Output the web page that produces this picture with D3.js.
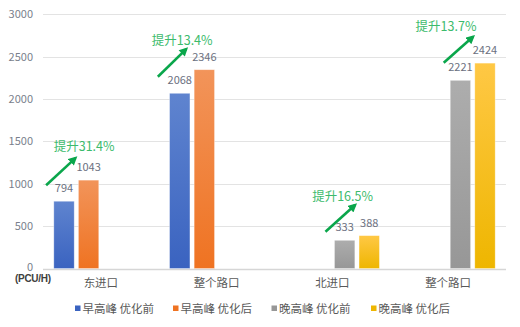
<!DOCTYPE html>
<html><head><meta charset="utf-8">
<script src="https://cdn.jsdelivr.net/npm/d3@7"></script>
<style>
html,body{margin:0;padding:0;background:#fff;}
svg{display:block;font-family:"Noto Sans CJK SC","Noto Sans",sans-serif;}
</style></head>
<body>
<svg id="c" width="520" height="327"></svg>
<script>
const categories = ["东进口", "整个路口", "北进口", "整个路口"];
const seriesNames = ["早高峰 优化前", "早高峰 优化后", "晚高峰 优化前", "晚高峰 优化后"];
const amBefore = [794, 2068, null, null];
const amAfter = [1043, 2346, null, null];
const pmBefore = [null, null, 333, 2221];
const pmAfter = [null, null, 388, 2424];
const yTicks = [0, 500, 1000, 1500, 2000, 2500, 3000];
const notes = ["提升31.4%", "提升13.4%", "提升16.5%", "提升13.7%"];
const unitLabel = "(PCU/H)";

(function () {
const seriesData = [amBefore, amAfter, pmBefore, pmAfter];
const colors = [["#5f84cf","#3a63c0"],["#f2945a","#ef7322"],["#adadad","#979797"],["#ffc845","#eeb600"]];

const svg = d3.select("#c");
const mLeft = 43, mRight = 506, mTop = 14.3, mBottom = 268.5;
const x0 = d3.scaleBand().domain(d3.range(categories.length)).range([mLeft, mRight]).padding(0);
const x1 = d3.scaleBand().domain(d3.range(4)).range([0, x0.bandwidth()]).paddingInner(0.17).paddingOuter(0.44);
const y = d3.scaleLinear().domain([0, 3000]).range([mBottom, mTop]);

const defs = svg.append("defs");
colors.forEach((c, i) => {
  const g = defs.append("linearGradient").attr("id", "g" + i).attr("x1", 0).attr("y1", 0).attr("x2", 0).attr("y2", 1);
  g.append("stop").attr("offset", "0%").attr("stop-color", c[0]);
  g.append("stop").attr("offset", "100%").attr("stop-color", c[1]);
});
const mk = defs.append("marker").attr("id", "ah").attr("viewBox", "0 0 10 10").attr("refX", 7).attr("refY", 5)
  .attr("markerWidth", 3.6).attr("markerHeight", 3.4).attr("orient", "auto").attr("markerUnits", "strokeWidth");
mk.append("path").attr("d", "M0,0 L10,5 L0,10 z").attr("fill", "#0aa64b");

// grid
svg.append("g").selectAll("line").data(yTicks).join("line")
  .attr("x1", mLeft).attr("x2", mRight).attr("y1", d => Math.round(y(d)) + 0.5).attr("y2", d => Math.round(y(d)) + 0.5)
  .attr("stroke", d => d === 0 ? "#d6d6d6" : "#e3e3e3").attr("stroke-width", d => d === 0 ? 1.5 : 1);

// y axis labels
svg.append("g").selectAll("text").data(yTicks).join("text")
  .attr("x", 33).attr("y", d => y(d) + 4 - (d === 0 ? 2 : 0)).attr("text-anchor", "end")
  .attr("font-size", 11).attr("fill", "#7a7f8c").text(d => d);

svg.append("text").attr("x", 15).attr("y", 281.5).attr("text-anchor", "start").attr("font-size", 10)
  .attr("font-weight", "bold").attr("fill", "#404040").attr("font-family", "Arial, Liberation Sans, sans-serif")
  .attr("textLength", 36).text(unitLabel);

// bars
const groups = svg.append("g").selectAll("g").data(categories).join("g")
  .attr("transform", (d, i) => `translate(${x0(i)},0)`);
groups.each(function(cat, ci) {
  const g = d3.select(this);
  seriesData.forEach((s, si) => {
    const v = s[ci];
    if (v == null) return;
    g.append("rect").attr("x", x1(si)).attr("width", x1.bandwidth())
      .attr("y", y(v)).attr("height", y(0) - y(v)).attr("fill", `url(#g${si})`)
      .attr("stroke", "#fff").attr("stroke-opacity", 0.5).attr("stroke-width", 0.7);
    g.append("text").attr("x", x1(si) + x1.bandwidth() / 2).attr("y", y(v) - 9)
      .attr("text-anchor", "middle").attr("font-size", 11).attr("fill", "#6b7080").text(v);
  });
});

// category labels
svg.append("g").selectAll("text").data(categories).join("text")
  .attr("x", (d, i) => x0(i) + x0.bandwidth() / 2).attr("y", 287).attr("text-anchor", "middle")
  .attr("font-size", 11.5).attr("fill", "#595959").text(d => d);

// annotations: arrow anchored to before/after bars (pixel offsets)
const pairs = [[0, 0, 1], [1, 0, 1], [2, 2, 3], [3, 2, 3]];
const arrowOff = [[-7.7, -16, 21.6, -22], [-11.7, -16.5, 16.6, -20.6], [-9, -8.6, 20.6, -30.6], [-6.5, -17.5, 22.8, -26.3]];
const textOff = [[8.7, -12], [-4, -8.3], [-12.5, -8.3], [-27, -10]];
pairs.forEach((p, k) => {
  const [ci, sa, sb] = p;
  const va = seriesData[sa][ci], vb = seriesData[sb][ci];
  const bx = x0(ci) + x1(sa);
  const o = arrowOff[k];
  const tipX = bx + o[2], tipY = y(vb) + o[3];
  svg.append("line").attr("x1", bx + o[0]).attr("y1", y(va) + o[1]).attr("x2", tipX).attr("y2", tipY)
    .attr("stroke", "#0aa64b").attr("stroke-width", 2.6).attr("marker-end", "url(#ah)");
  const t = textOff[k];
  svg.append("text").attr("x", tipX + t[0]).attr("y", tipY + t[1] + 4.5)
    .attr("text-anchor", "middle").attr("font-size", 12.5).attr("fill", "#3cbb6c").text(notes[k]);
});

// legend
const legX = [75, 173, 271.5, 371];
const leg = svg.append("g").selectAll("g").data(seriesNames).join("g")
  .attr("transform", (d, i) => `translate(${legX[i]},308.5)`);
leg.append("rect").attr("x", 0).attr("y", -3).attr("width", 5.5).attr("height", 5.5).attr("fill", (d, i) => colors[i][1]);
leg.append("text").attr("x", 7.5).attr("y", 4).attr("font-size", 11.5).attr("fill", "#595959").text(d => d);
})();
</script>
</body></html>
